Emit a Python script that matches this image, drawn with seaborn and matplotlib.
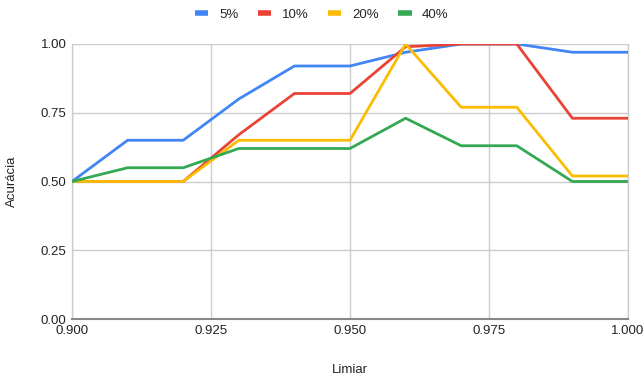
import numpy as np
import pandas as pd
import matplotlib
matplotlib.use("Agg")
import matplotlib.pyplot as plt
import seaborn as sns

limiar = [0.90, 0.91, 0.92, 0.93, 0.94, 0.95, 0.96, 0.97, 0.98, 0.99, 1.00]
acc_5 = [0.50, 0.65, 0.65, 0.80, 0.92, 0.92, 0.97, 1.00, 1.00, 0.97, 0.97]
acc_10 = [0.50, 0.50, 0.50, 0.67, 0.82, 0.82, 0.99, 1.00, 1.00, 0.73, 0.73]
acc_20 = [0.50, 0.50, 0.50, 0.65, 0.65, 0.65, 1.00, 0.77, 0.77, 0.52, 0.52]
acc_40 = [0.50, 0.55, 0.55, 0.62, 0.62, 0.62, 0.73, 0.63, 0.63, 0.50, 0.50]
series_names = ["5%", "10%", "20%", "40%"]
colors = ["#4285F4", "#EA4335", "#FBBC04", "#34A853"]
x_ticks = [0.900, 0.925, 0.950, 0.975, 1.000]
y_ticks = [0.00, 0.25, 0.50, 0.75, 1.00]

df = pd.concat(
    [pd.DataFrame({"Limiar": limiar, "Acurácia": vals, "Série": name})
     for name, vals in zip(series_names, [acc_5, acc_10, acc_20, acc_40])],
    ignore_index=True,
)

sns.set_theme(style="white")
plt.rcParams["font.family"] = ["Liberation Sans", "DejaVu Sans"]

fig = plt.figure(figsize=(6.44, 3.79), dpi=100)
ax = fig.add_axes([72 / 644, 1 - 319 / 379, (628 - 72) / 644, (319 - 44) / 379])

sns.lineplot(data=df, x="Limiar", y="Acurácia", hue="Série", hue_order=series_names,
             palette=colors, linewidth=2, ax=ax, legend=False, zorder=3)

ax.set_xlim(0.9, 1.0)
ax.set_ylim(0, 1.0)
ax.set_xticks(x_ticks)
ax.set_xticklabels([f"{t:.3f}" for t in x_ticks])
ax.set_yticks(y_ticks)
ax.set_yticklabels([f"{t:.2f}" for t in y_ticks])
ax.grid(True, color="#cccccc", linewidth=1)
ax.tick_params(axis="both", length=0, labelsize=9.5, colors="#222222", pad=4)

ax.spines["top"].set_visible(False)
for side in ["right", "left"]:
    ax.spines[side].set_color("#cccccc")
    ax.spines[side].set_linewidth(1)
ax.spines["bottom"].set_color("#888888")
ax.spines["bottom"].set_linewidth(1.5)

ax.set_xlabel("Limiar", fontsize=9.5, color="#222222", labelpad=20)
ax.set_ylabel("Acurácia", fontsize=9.5, color="#222222", labelpad=16)

handles = [plt.Line2D([], [], color=c, linewidth=4, solid_capstyle="butt") for c in colors]
fig.legend(handles, series_names, loc="center", bbox_to_anchor=(0.5, 1 - 15 / 379),
           ncol=4, frameon=False, fontsize=9.5, handlelength=1.0, columnspacing=1.5,
           handletextpad=0.8)

fig.savefig("out.png", dpi=100)
